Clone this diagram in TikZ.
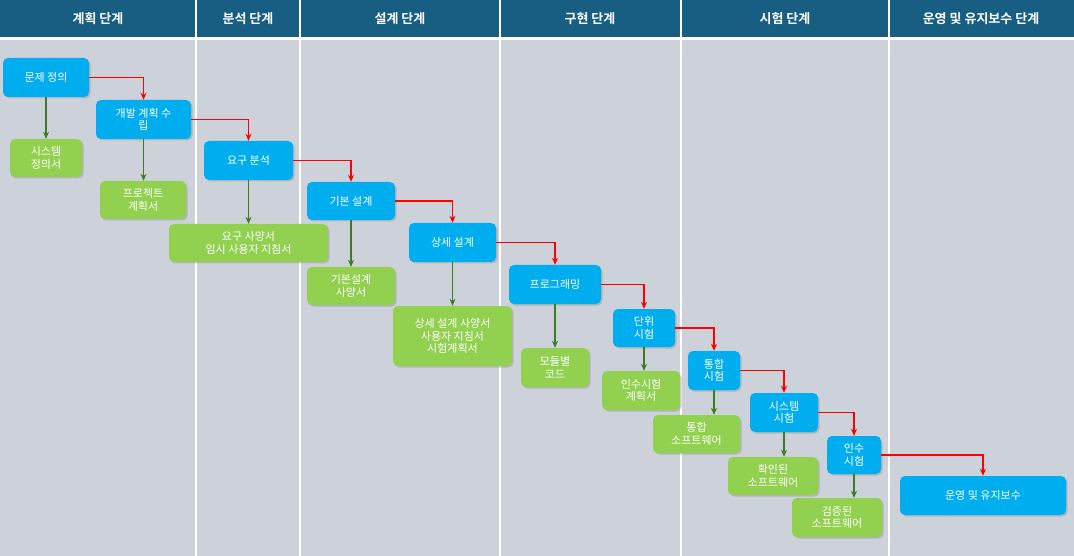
\documentclass[tikz,border=0pt]{standalone}
\usepackage{fontspec}
\setmainfont{Noto Sans CJK KR}
\newfontfamily\hdrfont{Noto Sans CJK KR Bold}
\usetikzlibrary{shadows,arrows.meta}
\definecolor{hdr}{HTML}{175E82}
\definecolor{bodybg}{HTML}{CDD2DA}
\definecolor{bluebox}{HTML}{00AEEF}
\definecolor{greenbox}{HTML}{92D050}
\definecolor{garrow}{HTML}{3A7D22}
\tikzset{
  box/.style={rounded corners=5pt, text=white, align=center, font=\fontsize{11}{12.5}\selectfont, inner sep=1pt,
    drop shadow={shadow xshift=1.5pt, shadow yshift=-1.5pt, opacity=0.35}},
  bbox/.style={box, fill=bluebox},
  gbox/.style={box, fill=greenbox},
  flowarrow/.style={draw=red, line width=1.3pt, -{Stealth[length=7pt,width=6pt]}},
  outarrow/.style={draw=garrow, line width=1.3pt, -{Stealth[length=7pt,width=6pt]}},
  hdrtext/.style={text=white, font=\hdrfont\fontsize{13}{15}\selectfont}
}
\newcommand{\bx}[7]{\node[#1, minimum width=#4-#3, minimum height=#6-#5] (#2) at ({(#3+#4)/2},{(#5+#6)/2}) {#7};}
\begin{document}
\begin{tikzpicture}[x=1pt,y=-1pt]
\useasboundingbox (0,0) rectangle (1074,556);
\fill[bodybg] (0,0) rectangle (1074,556);
\fill[hdr] (0,0) rectangle (1074,37);
\fill[white] (0,37) rectangle (1074,40);
\foreach \xx in {196,300,500,681,889} \draw[white, line width=1.2pt] (\xx,0) -- (\xx,556);
\node[hdrtext] (h1) at (98,19) {계획 단계};
\node[hdrtext] (h2) at (248,19) {분석 단계};
\node[hdrtext] (h3) at (400,19) {설계 단계};
\node[hdrtext] (h4) at (590,19) {구현 단계};
\node[hdrtext] (h5) at (785,19) {시험 단계};
\node[hdrtext] (h6) at (981,19) {운영 및 유지보수 단계};
% blue
\bx{bbox}{b1}{3}{89}{58}{97}{문제 정의}
\bx{bbox}{b2}{96}{191}{100}{139}{개발 계획 수\\립}
\bx{bbox}{b3}{204}{293}{141}{180}{요구 분석}
\bx{bbox}{b4}{307}{395}{182}{220}{기본 설계}
\bx{bbox}{b5}{409}{496}{223}{262}{상세 설계}
\bx{bbox}{b6}{509}{601}{265}{304}{프로그래밍}
\bx{bbox}{b7}{613}{675}{309}{347}{단위\\시험}
\bx{bbox}{b8}{688}{740}{351}{390}{통합\\시험}
\bx{bbox}{b9}{750}{818}{393}{432}{시스템\\시험}
\bx{bbox}{b10}{827}{881}{436}{474}{인수\\시험}
\bx{bbox}{b11}{900}{1066}{476}{515}{운영 및 유지보수}
% green
\bx{gbox}{g1}{10}{82}{139}{177}{시스템\\정의서}
\bx{gbox}{g2}{100}{186}{181}{219}{프로젝트\\계획서}
\bx{gbox}{g3}{169}{328}{224}{262}{요구 사양서\\임시 사용자 지침서}
\bx{gbox}{g4}{307}{395}{267}{305}{기본설계\\사양서}
\bx{gbox}{g5}{393}{512}{306}{366}{상세 설계 사양서\\사용자 지침서\\시험계획서}
\bx{gbox}{g6}{521}{589}{348}{387}{모듈별\\코드}
\bx{gbox}{g7}{602}{680}{371}{410}{인수시험\\계획서}
\bx{gbox}{g8}{653}{740}{415}{453}{통합\\소프트웨어}
\bx{gbox}{g9}{728}{818}{457}{495}{확인된\\소프트웨어}
\bx{gbox}{g10}{792}{882}{498}{537}{검증된\\소프트웨어}
% red flow
\foreach \a/\b in {b1/b2,b2/b3,b3/b4,b4/b5,b5/b6,b6/b7,b7/b8,b8/b9,b9/b10,b10/b11}
  \draw[flowarrow] (\a.east) -| (\b.north);
% green outputs
\foreach \n in {1,...,10}
  \draw[outarrow] (b\n.south) -- (b\n.south |- g\n.north);
\end{tikzpicture}
\end{document}
